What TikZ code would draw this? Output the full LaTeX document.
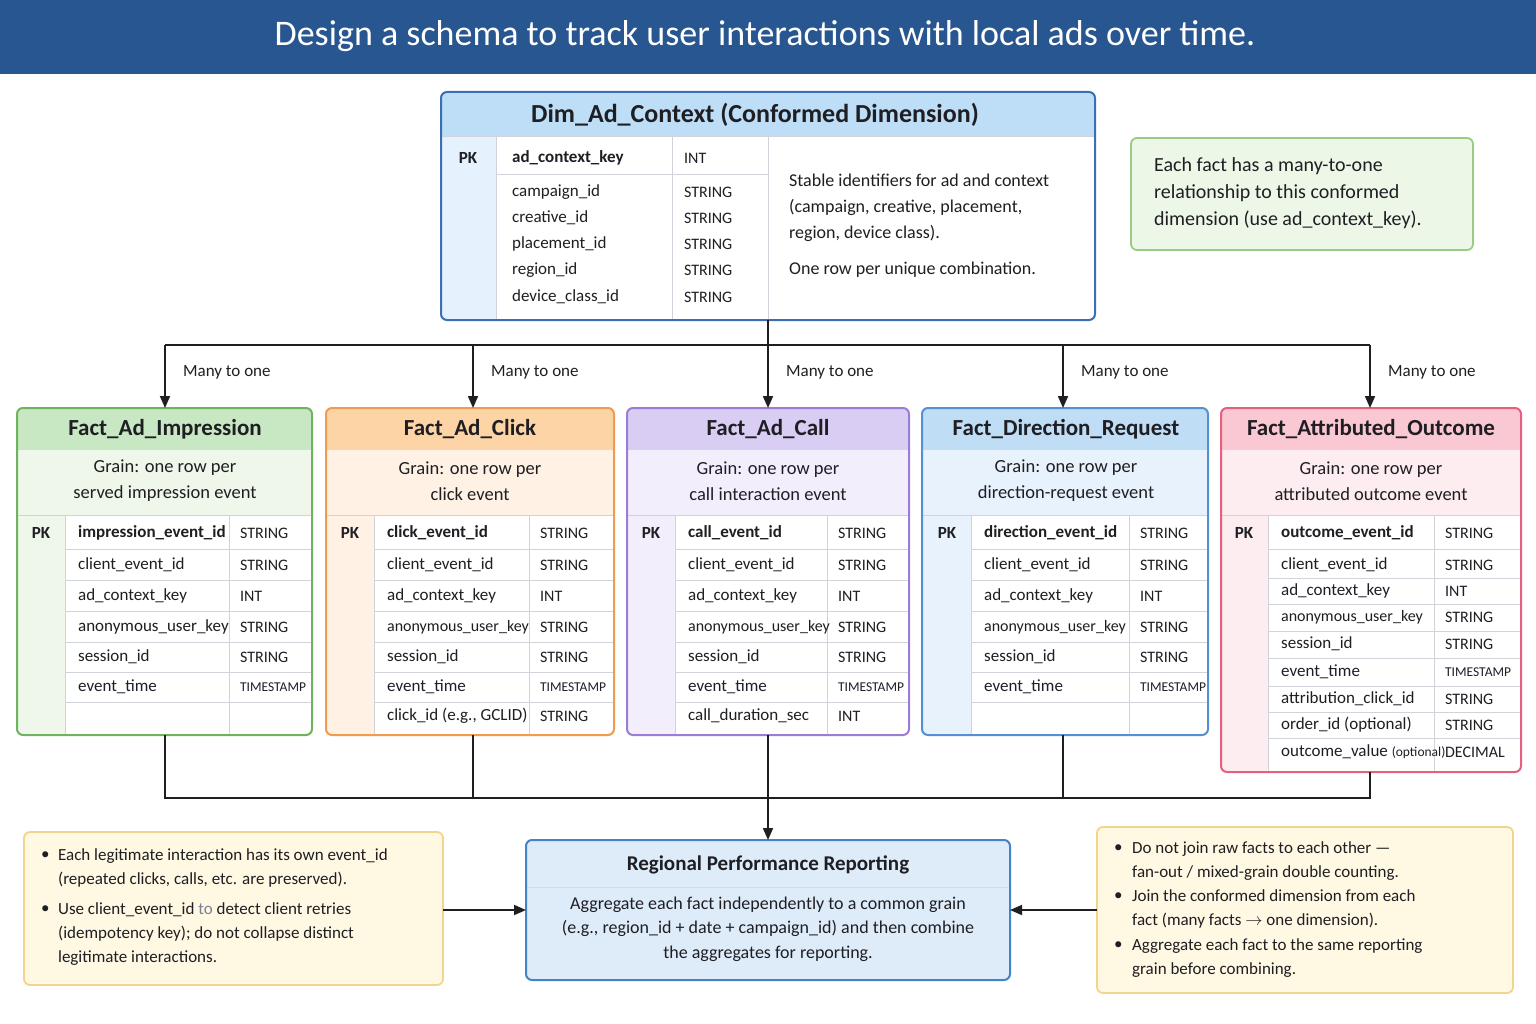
\documentclass[tikz,border=0pt]{standalone}
\usepackage{fontspec}
\setmainfont{Carlito}
\usetikzlibrary{arrows.meta}

\definecolor{navy}{RGB}{40,86,144}
\definecolor{ink}{RGB}{30,30,35}
\definecolor{rule}{RGB}{208,212,218}
\definecolor{tocol}{RGB}{120,130,150}
\definecolor{dimline}{RGB}{60,110,180}
\definecolor{dimhdr}{RGB}{190,222,247}
\definecolor{dimpk}{RGB}{229,241,252}
\definecolor{gline}{RGB}{110,180,95}
\definecolor{ghdr}{RGB}{200,232,195}
\definecolor{glight}{RGB}{238,247,234}
\definecolor{oline}{RGB}{240,155,80}
\definecolor{ohdr}{RGB}{253,212,165}
\definecolor{olight}{RGB}{255,242,228}
\definecolor{pline}{RGB}{155,125,215}
\definecolor{phdr}{RGB}{218,205,243}
\definecolor{plight}{RGB}{243,238,251}
\definecolor{bline}{RGB}{85,145,210}
\definecolor{bhdr}{RGB}{192,221,246}
\definecolor{blight}{RGB}{232,242,252}
\definecolor{rline}{RGB}{230,95,125}
\definecolor{rhdr}{RGB}{250,200,210}
\definecolor{rlight}{RGB}{253,236,240}
\definecolor{notegfill}{RGB}{237,247,232}
\definecolor{notegline}{RGB}{150,205,130}
\definecolor{noteyfill}{RGB}{255,248,226}
\definecolor{noteyline}{RGB}{242,212,140}
\definecolor{repfill}{RGB}{222,236,250}
\definecolor{repline}{RGB}{70,130,200}

\newcommand{\fbody}{\fontsize{17}{24}\selectfont}
\newcommand{\ftype}{\fontsize{16}{20}\selectfont}
\newcommand{\fnarrow}{\fontsize{13.5}{20}\selectfont}
\newcommand{\fhead}{\fontsize{23}{28}\selectfont\bfseries}

% coloured inner parts of a fact table: x1, x2, bottom, header, light, pk column edge
\newcommand{\factfill}[6]{%
  \begin{scope}
    \clip[rounded corners=6] (#1,408) rectangle (#2,#3);
    \fill[white] (#1,408) rectangle (#2,#3);
    \fill[#4] (#1,408) rectangle (#2,450);
    \fill[#5] (#1,450) rectangle (#2,515);
    \fill[#5] (#1,515) rectangle (#6,#3);
  \end{scope}}

\tikzset{every picture/.style={line width=0.75pt}}

\begin{document}
\begin{tikzpicture}[x=1pt,y=1pt,yscale=-1,xscale=1,
  frame/.style={draw, line width=2pt, rounded corners=6, inner sep=0, outer sep=0, anchor=north west},
  txt/.style={anchor=west, inner sep=0.75pt, font=\fbody, text=ink},
  typ/.style={anchor=west, inner sep=0.75pt, font=\ftype, text=ink},
  hdr/.style={anchor=center, inner sep=0.75pt, font=\fhead, text=ink},
  grain/.style={anchor=center, inner sep=0.75pt, font=\fontsize{18.5}{26}\selectfont, text=ink, align=center},
  pk/.style={anchor=center, inner sep=0.75pt, font=\fbody\bfseries, text=ink},
  rulez/.style={draw=rule, line width=1pt},
  link/.style={draw=ink, line width=1.8pt},
  arr/.style={link, -{Triangle[width=10pt,length=12pt]}}]
\useasboundingbox (0,0) rectangle (1536,1024);

% Title bar
\fill[navy] (0,0) rectangle (1536,74);
\node (title) [anchor=center, inner sep=0.75pt, text=white, font=\fontsize{36}{40}\selectfont] at (765,36) {Design a schema to track user interactions with local ads over time.};

% Dimension table
\begin{scope}
  \clip[rounded corners=6] (441,92) rectangle (1095,320);
  \fill[white] (441,92) rectangle (1095,320);
  \fill[dimhdr] (441,92) rectangle (1095,137);
  \fill[dimpk] (441,137) rectangle (496,320);
\end{scope}
\draw[rulez] (441,137) -- (1095,137);
\draw[rulez] (496,175) -- (768,175);
\draw[rulez] (496,137) -- (496,320);
\draw[rulez] (672,137) -- (672,320);
\draw[rulez] (768,137) -- (768,320);
\node (dim) [frame, draw=dimline, minimum width=654, minimum height=228] at (441,92) {};
\node (dimt) [hdr, font=\fontsize{26}{30}\selectfont\bfseries] at (755,115) {Dim\_Ad\_Context (Conformed Dimension)};
\node (dimpk) [pk] at (468,158) {PK};
\node (dimk) [txt, font=\fbody\bfseries] at (511,158) {ad\_context\_key};
\node (dimkt) [typ] at (683,158) {INT};
\foreach \y/\n in {192/campaign\_id, 218/creative\_id, 244/placement\_id, 270/region\_id, 297/device\_class\_id}{
  \node (dimn\y) [txt] at (511,\y) {\n};
  \node (dimt\y) [typ] at (683,\y) {STRING};
}
\node (dimdesc) [txt, font=\fontsize{18}{26}\selectfont, align=left] at (788,208) {Stable identifiers for ad and context\\(campaign, creative, placement,\\region, device class).};
\node (dimrow) [txt, font=\fontsize{18}{26}\selectfont] at (788,270) {One row per unique combination.};

% Note on conformed dimension
\node (gnote) [frame, draw=notegline, fill=notegfill, line width=1.8pt, minimum width=342, minimum height=112] at (1131,138) {};
\node (gnotet) [txt, font=\fontsize{20}{27}\selectfont, align=left] at (1153,193) {Each fact has a many-to-one\\relationship to this conformed\\dimension (use ad\_context\_key).};

% Fact_Ad_Impression
\factfill{17}{312}{735}{ghdr}{glight}{65}
\draw[rulez] (17,515) -- (312,515);
\draw[rulez] (65,515) -- (65,735);
\draw[rulez] (229,515) -- (229,735);
\foreach \y in {549,580,611,642,672,702} \draw[rulez] (65,\y) -- (312,\y);
\node (impr) [frame, draw=gline, minimum width=295, minimum height=327] at (17,408) {};
\node (imprt) [hdr] at (165,429) {Fact\_Ad\_Impression};
\node (imprg) [grain] at (165,481) {Grain: one row per\\served impression event};
\node (imprpk) [pk] at (41,533) {PK};
\node (imprk) [txt, font=\fbody\bfseries] at (77,533) {impression\_event\_id};
\node (imprkt) [typ] at (239,533) {STRING};
\foreach \y/\n/\t in {565/client\_event\_id/STRING, 596/ad\_context\_key/INT, 627/anonymous\_user\_key/STRING, 657/session\_id/STRING}{
  \node (imprn\y) [txt] at (77,\y) {\n};
  \node (imprt\y) [typ] at (239,\y) {\t};
}
\node (imprn687) [txt] at (77,687) {event\_time};
\node (imprt687) [typ, font=\fnarrow] at (239,687) {TIMESTAMP};

% Fact_Ad_Click
\factfill{326}{614}{735}{ohdr}{olight}{374}
\draw[rulez] (326,515) -- (614,515);
\draw[rulez] (374,515) -- (374,735);
\draw[rulez] (529,515) -- (529,735);
\foreach \y in {549,580,611,642,672,702} \draw[rulez] (374,\y) -- (614,\y);
\node (click) [frame, draw=oline, minimum width=288, minimum height=327] at (326,408) {};
\node (clickt) [hdr] at (470,429) {Fact\_Ad\_Click};
\node (clickg) [grain] at (470,481) {Grain: one row per\\click event};
\node (clickpk) [pk] at (350,533) {PK};
\node (clickk) [txt, font=\fbody\bfseries] at (386,533) {click\_event\_id};
\node (clickkt) [typ] at (539,533) {STRING};
\foreach \y/\n/\t in {565/client\_event\_id/STRING, 596/ad\_context\_key/INT, 657/session\_id/STRING, 716/{click\_id (e.g., GCLID)}/STRING}{
  \node (clickn\y) [txt] at (386,\y) {\n};
  \node (clickt\y) [typ] at (539,\y) {\t};
}
\node (clickn627) [txt, font=\ftype] at (386,627) {anonymous\_user\_key};
\node (clickt627) [typ] at (539,627) {STRING};
\node (clickn687) [txt] at (386,687) {event\_time};
\node (clickt687) [typ, font=\fnarrow] at (539,687) {TIMESTAMP};

% Fact_Ad_Call
\factfill{627}{909}{735}{phdr}{plight}{675}
\draw[rulez] (627,515) -- (909,515);
\draw[rulez] (675,515) -- (675,735);
\draw[rulez] (827,515) -- (827,735);
\foreach \y in {549,580,611,642,672,702} \draw[rulez] (675,\y) -- (909,\y);
\node (call) [frame, draw=pline, minimum width=282, minimum height=327] at (627,408) {};
\node (callt) [hdr] at (768,429) {Fact\_Ad\_Call};
\node (callg) [grain] at (768,481) {Grain: one row per\\call interaction event};
\node (callpk) [pk] at (651,533) {PK};
\node (callk) [txt, font=\fbody\bfseries] at (687,533) {call\_event\_id};
\node (callkt) [typ] at (837,533) {STRING};
\foreach \y/\n/\t in {565/client\_event\_id/STRING, 596/ad\_context\_key/INT, 657/session\_id/STRING, 716/call\_duration\_sec/INT}{
  \node (calln\y) [txt] at (687,\y) {\n};
  \node (callt\y) [typ] at (837,\y) {\t};
}
\node (calln627) [txt, font=\ftype] at (687,627) {anonymous\_user\_key};
\node (callt627) [typ] at (837,627) {STRING};
\node (calln687) [txt] at (687,687) {event\_time};
\node (callt687) [typ, font=\fnarrow] at (837,687) {TIMESTAMP};

% Fact_Direction_Request
\factfill{922}{1208}{735}{bhdr}{blight}{971}
\draw[rulez] (922,515) -- (1208,515);
\draw[rulez] (971,515) -- (971,735);
\draw[rulez] (1129,515) -- (1129,735);
\foreach \y in {549,580,611,642,672,702} \draw[rulez] (971,\y) -- (1208,\y);
\node (dirq) [frame, draw=bline, minimum width=286, minimum height=327] at (922,408) {};
\node (dirqt) [hdr] at (1066,429) {Fact\_Direction\_Request};
\node (dirqg) [grain] at (1066,481) {Grain: one row per\\direction-request event};
\node (dirqpk) [pk] at (947,533) {PK};
\node (dirqk) [txt, font=\fbody\bfseries] at (983,533) {direction\_event\_id};
\node (dirqkt) [typ] at (1139,533) {STRING};
\foreach \y/\n/\t in {565/client\_event\_id/STRING, 596/ad\_context\_key/INT, 657/session\_id/STRING}{
  \node (dirqn\y) [txt] at (983,\y) {\n};
  \node (dirqt\y) [typ] at (1139,\y) {\t};
}
\node (dirqn627) [txt, font=\ftype] at (983,627) {anonymous\_user\_key};
\node (dirqt627) [typ] at (1139,627) {STRING};
\node (dirqn687) [txt] at (983,687) {event\_time};
\node (dirqt687) [typ, font=\fnarrow] at (1139,687) {TIMESTAMP};

% Fact_Attributed_Outcome
\factfill{1221}{1521}{772}{rhdr}{rlight}{1268}
\draw[rulez] (1221,515) -- (1521,515);
\draw[rulez] (1268,515) -- (1268,772);
\draw[rulez] (1434,515) -- (1434,772);
\foreach \y in {549,578,604,631,658,686,712,738} \draw[rulez] (1268,\y) -- (1521,\y);
\node (outc) [frame, draw=rline, minimum width=300, minimum height=364] at (1221,408) {};
\node (outct) [hdr] at (1371,429) {Fact\_Attributed\_Outcome};
\node (outcg) [grain] at (1371,481) {Grain: one row per\\attributed outcome event};
\node (outcpk) [pk] at (1244,533) {PK};
\node (outck) [txt, font=\fbody\bfseries] at (1280,533) {outcome\_event\_id};
\node (outckt) [typ] at (1444,533) {STRING};
\foreach \y/\n/\t in {565/client\_event\_id/STRING, 591/ad\_context\_key/INT, 644/session\_id/STRING, 699/attribution\_click\_id/STRING, 725/order\_id (optional)/STRING}{
  \node (outcn\y) [txt] at (1280,\y) {\n};
  \node (outct\y) [typ] at (1444,\y) {\t};
}
\node (outcn617) [txt, font=\ftype] at (1280,617) {anonymous\_user\_key};
\node (outct617) [typ] at (1444,617) {STRING};
\node (outcn672) [txt] at (1280,672) {event\_time};
\node (outct672) [typ, font=\fnarrow] at (1444,672) {TIMESTAMP};
\node (outcn752) [txt] at (1280,752) {outcome\_value {\fnarrow(optional)}};
\node (outct752) [typ] at (1444,752) {DECIMAL};

% Links from the dimension to the facts
\coordinate (busT) at (768,345);
\coordinate (b1) at (165,345);
\coordinate (b2) at (473,345);
\coordinate (b4) at (1063,345);
\coordinate (b5) at (1370,345);
\draw[link] (dim.south) -- (busT);
\draw[link] (b1) -- (b5);
\draw[arr] (b1) -- (b1 |- impr.north);
\draw[arr] (b2) -- (b2 |- click.north);
\draw[arr] (busT) -- (call.north);
\draw[arr] (b4) -- (b4 |- dirq.north);
\draw[arr] (b5) -- (b5 |- outc.north);
\foreach \x/\m in {165/m1, 473/m2, 768/m3, 1063/m4, 1370/m5}
  \node (\m) [txt] at (\x+17,372) {Many to one};

% Links from the facts to reporting
\coordinate (d1) at (165,798);
\coordinate (d2) at (473,798);
\coordinate (d4) at (1063,798);
\coordinate (d5) at (1370,798);
\draw[link] (d1 |- impr.south) -- (d1) -- (d5) -- (d5 |- outc.south);
\draw[link] (d2 |- click.south) -- (d2);
\draw[link] (d4 |- dirq.south) -- (d4);

% Reporting box
\fill[repfill, rounded corners=6] (526,840) rectangle (1010,980);
\draw[draw=rule!70!repfill, line width=1pt] (526,887) -- (1010,887);
\node (report) [frame, draw=repline, minimum width=484, minimum height=140] at (526,840) {};
\node (reportt) [hdr, font=\fontsize{21}{26}\selectfont\bfseries] at (768,865) {Regional Performance Reporting};
\node (reportb) [grain, font=\fontsize{18}{24.5}\selectfont] at (768,929) {Aggregate each fact independently to a common grain\\(e.g., region\_id + date + campaign\_id) and then combine\\the aggregates for reporting.};
\draw[arr] (call.south) -- (report.north);

% Left note
\node (lnote) [frame, draw=noteyline, fill=noteyfill, line width=1.8pt, minimum width=419, minimum height=153] at (24,832) {};
\node (lb1) [txt] at (40,856) {\textbullet};
\node (lt1) [txt, align=left] at (57,868) {Each legitimate interaction has its own event\_id\\(repeated clicks, calls, etc. are preserved).};
\node (lb2) [txt] at (40,910) {\textbullet};
\node (lt2) [txt, align=left] at (57,934) {Use client\_event\_id \textcolor{tocol}{to} detect client retries\\(idempotency key); do not collapse distinct\\legitimate interactions.};
\draw[arr] (lnote.east |- report.west) -- (report.west);

% Right note
\node (rnote) [frame, draw=noteyline, fill=noteyfill, line width=1.8pt, minimum width=416, minimum height=166] at (1097,827) {};
\node (rb1) [txt] at (1113,849) {\textbullet};
\node (rt1) [txt, align=left] at (1131,861) {Do not join raw facts to each other ---\\fan-out / mixed-grain double counting.};
\node (rb2) [txt] at (1113,897) {\textbullet};
\node (rt2) [txt, align=left] at (1131,909) {Join the conformed dimension from each\\fact (many facts $\rightarrow$ one dimension).};
\node (rb3) [txt] at (1113,946) {\textbullet};
\node (rt3) [txt, align=left] at (1131,958) {Aggregate each fact to the same reporting\\grain before combining.};
\draw[arr] (rnote.west |- report.east) -- (report.east);

\end{tikzpicture}
\end{document}
